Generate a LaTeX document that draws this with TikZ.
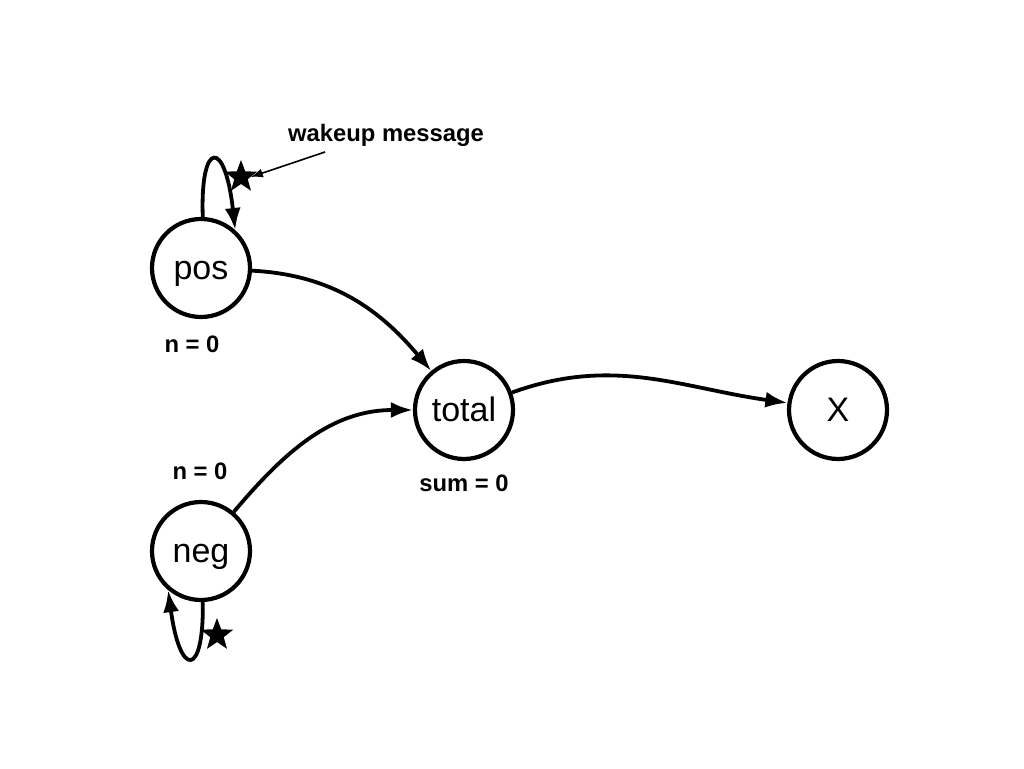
\documentclass[tikz,border=0pt]{standalone}
\usepackage{fontspec}
\setmainfont{Liberation Sans}
\usetikzlibrary{arrows.meta,shapes.geometric}
\tikzset{
  state/.style={circle,draw,line width=4.2pt,minimum size=98pt,inner sep=0pt,text height=24pt,text depth=0pt,font=\fontsize{34}{38}\selectfont},
  lbl/.style={font=\bfseries\fontsize{23.8}{28}\selectfont,inner sep=0pt},
  edge/.style={line width=3.8pt,-{Latex[length=22pt,width=16pt]}},
  thin/.style={line width=1.6pt,-{Latex[length=12pt,width=9pt]}},
  starmark/.style={star,star points=5,star point ratio=2.4,fill=black,minimum size=34pt,inner sep=0pt}
}
\begin{document}
\begin{tikzpicture}[x=1pt,y=1pt]
\useasboundingbox (0,0) rectangle (1024,768);
\node[state] (pos) at (201,500) {pos};
\node[state] (total) at (464,358) {total};
\node[state] (X) at (838,358) {X};
\node[state] (neg) at (201,217) {neg};
\node[lbl] (npos) at (192,424) {n = 0};
\node[lbl] (nneg) at (200,297) {n = 0};
\node[lbl] (sum) at (464,285) {sum = 0};
\node[lbl] (wake) at (386,633) {wakeup message};
\node[starmark] (s1) at (241,591) {};
\node[starmark] (s2) at (217,133) {};
\coordinate (p0) at (325,616);
\draw[thin] (p0) -- (s1.east);
\draw[edge] (pos.88) .. controls (200,628) and (225,630) .. (pos.48);
\draw[edge] (neg.-88) .. controls (204,90) and (180,90) .. (neg.-130);
\draw[edge] (pos) to[out=-3,in=130] (total);
\draw[edge] (neg) to[out=50,in=180] (total);
\draw[edge] (total) to[out=20,in=172] (X);
\end{tikzpicture}
\end{document}
